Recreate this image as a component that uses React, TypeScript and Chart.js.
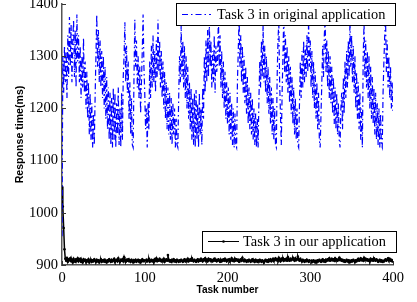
import React, { useEffect, useRef } from 'react';
import { Chart, registerables } from 'chart.js';

Chart.register(...registerables);

// Response time (ms) of Task 3, original application, task 0..400
const originalApp: number[] = [
  955, 1300, 1230, 1320, 1250, 1310, 1220, 1340, 1260, 1375,
  1280, 1360, 1250, 1330, 1370, 1260, 1350, 1240, 1380, 1290,
  1340, 1250, 1320, 1220, 1300, 1240, 1335, 1230, 1290, 1200,
  1270, 1180, 1250, 1150, 1230, 1140, 1210, 1125, 1190, 1130,
  1220, 1300, 1380, 1280, 1350, 1250, 1330, 1240, 1310, 1220,
  1300, 1200, 1280, 1180, 1260, 1160, 1240, 1140, 1230, 1130,
  1220, 1125, 1240, 1140, 1230, 1125, 1210, 1150, 1240, 1130,
  1200, 1125, 1230, 1140, 1260, 1300, 1365, 1250, 1320, 1230,
  1290, 1180, 1250, 1150, 1220, 1130, 1125, 1260, 1370, 1280,
  1330, 1240, 1300, 1220, 1280, 1190, 1250, 1310, 1380, 1280,
  1230, 1160, 1200, 1125, 1210, 1160, 1290, 1220, 1320, 1240,
  1340, 1250, 1310, 1230, 1330, 1260, 1370, 1270, 1330, 1240,
  1310, 1220, 1290, 1200, 1270, 1180, 1250, 1160, 1240, 1150,
  1230, 1140, 1220, 1130, 1210, 1150, 1200, 1125, 1180, 1130,
  1125, 1220, 1300, 1250, 1360, 1260, 1330, 1240, 1320, 1220,
  1300, 1200, 1280, 1180, 1250, 1160, 1240, 1140, 1220, 1130,
  1230, 1125, 1235, 1140, 1210, 1125, 1230, 1150, 1200, 1130,
  1240, 1180, 1300, 1230, 1330, 1250, 1350, 1260, 1370, 1280,
  1330, 1240, 1310, 1250, 1340, 1230, 1320, 1270, 1290, 1375,
  1280, 1340, 1240, 1310, 1220, 1290, 1200, 1270, 1180, 1250,
  1170, 1240, 1150, 1230, 1140, 1210, 1130, 1200, 1125, 1190,
  1130, 1125, 1250, 1310, 1375, 1280, 1340, 1250, 1320, 1230,
  1300, 1210, 1280, 1190, 1260, 1170, 1240, 1160, 1230, 1150,
  1220, 1140, 1200, 1130, 1190, 1125, 1180, 1125, 1220, 1290,
  1240, 1330, 1260, 1360, 1250, 1320, 1230, 1300, 1210, 1280,
  1190, 1260, 1170, 1240, 1150, 1220, 1140, 1200, 1130, 1125,
  1260, 1330, 1365, 1250, 1190, 1130, 1230, 1300, 1380, 1270,
  1340, 1250, 1320, 1230, 1300, 1210, 1280, 1190, 1260, 1170,
  1240, 1150, 1220, 1140, 1200, 1130, 1125, 1210, 1290, 1220,
  1310, 1240, 1330, 1250, 1320, 1260, 1340, 1270, 1370, 1280,
  1330, 1240, 1310, 1220, 1290, 1200, 1270, 1180, 1250, 1160,
  1230, 1140, 1125, 1190, 1250, 1320, 1260, 1340, 1370, 1270,
  1330, 1240, 1310, 1220, 1300, 1210, 1280, 1190, 1260, 1170,
  1240, 1160, 1230, 1150, 1210, 1140, 1125, 1200, 1230, 1160,
  1260, 1190, 1290, 1220, 1310, 1240, 1330, 1260, 1370, 1280,
  1340, 1250, 1320, 1230, 1300, 1200, 1270, 1180, 1250, 1160,
  1230, 1140, 1200, 1125, 1300, 1365, 1260, 1330, 1240, 1310,
  1220, 1300, 1200, 1280, 1180, 1260, 1170, 1240, 1150, 1230,
  1140, 1210, 1130, 1200, 1125, 1190, 1130, 1125, 1230, 1290,
  1340, 1370, 1270, 1330, 1240, 1300, 1220, 1280, 1200, 1250,
  1195,
];

// Response time (ms) of Task 3, our application, task 0..400
const ourApp: number[] = [
  1050, 1012, 971, 930, 912, 908, 914, 906, 911, 909,
  913, 907, 910, 905, 912, 908, 906, 911, 909, 913,
  907, 910, 912, 906, 909, 905, 911, 908, 910, 906,
  909, 907, 911, 905, 908, 910, 906, 909, 907, 911,
  908, 906, 910, 907, 909, 905, 908, 911, 906, 909,
  907, 910, 906, 908, 905, 909, 907, 911, 908, 906,
  910, 907, 909, 912, 906, 908, 910, 907, 913, 908,
  906, 910, 908, 911, 907, 915, 909, 906, 910, 908,
  911, 907, 909, 906, 910, 908, 905, 909, 907, 910,
  906, 908, 910, 907, 909, 905, 908, 911, 907, 909,
  908, 906, 910, 907, 909, 912, 906, 908, 910, 907,
  909, 906, 911, 908, 913, 907, 910, 908, 912, 909,
  907, 910, 908, 912, 906, 909, 911, 908, 919, 910,
  907, 909, 906, 910, 908, 911, 907, 909, 906, 910,
  908, 906, 909, 907, 910, 908, 906, 909, 911, 907,
  910, 908, 912, 907, 909, 911, 908, 913, 909, 907,
  910, 908, 906, 909, 911, 907, 910, 908, 912, 909,
  907, 911, 909, 913, 908, 910, 907, 912, 909, 911,
  908, 910, 907, 909, 912, 908, 910, 907, 909, 911,
  908, 906, 910, 907, 909, 911, 908, 912, 909, 907,
  910, 908, 911, 907, 909, 913, 908, 910, 907, 912,
  909, 911, 908, 910, 906, 909, 911, 908, 914, 909,
  907, 910, 908, 906, 909, 907, 910, 908, 906, 909,
  911, 907, 909, 906, 910, 908, 906, 909, 907, 910,
  908, 906, 909, 907, 905, 908, 910, 907, 909, 906,
  910, 908, 911, 907, 909, 912, 908, 910, 913, 909,
  911, 908, 914, 910, 907, 912, 909, 913, 908, 911,
  909, 912, 908, 915, 910, 908, 912, 909, 911, 914,
  910, 908, 913, 909, 911, 916, 910, 908, 912, 909,
  907, 910, 908, 906, 909, 907, 910, 908, 906, 909,
  907, 905, 908, 906, 909, 907, 905, 908, 906, 909,
  907, 910, 908, 906, 909, 911, 907, 909, 906, 910,
  908, 911, 909, 913, 908, 910, 912, 909, 911, 908,
  913, 909, 911, 908, 910, 914, 909, 911, 908, 910,
  907, 909, 906, 908, 910, 907, 909, 905, 908, 906,
  909, 907, 910, 908, 906, 909, 907, 910, 912, 908,
  910, 913, 909, 911, 908, 914, 910, 912, 909, 911,
  908, 910, 907, 912, 909, 911, 908, 913, 910, 908,
  911, 909, 906, 908, 910, 907, 909, 906, 908, 907,
  909, 911, 908, 910, 913, 909, 912, 908, 910, 907,
  909,
];

const xTicks: number[] = [0, 100, 200, 300, 400];
const yTicks: number[] = [900, 1000, 1100, 1200, 1300, 1400];
const legendLabels: string[] = ['Task 3 in original application', 'Task 3 in our application'];
const xTitle = 'Task number';
const yTitle = 'Response time(ms)';

const SERIF = '"Liberation Serif", "Times New Roman", serif';
const SANS = '"Liberation Sans", Arial, sans-serif';
const BLUE = '#0000ff';
const BLUE_DASH = [6, 3, 1.5, 3];

export default function App() {
  const ref = useRef<HTMLCanvasElement>(null);

  useEffect(() => {
    const canvas = ref.current;
    if (!canvas) return;

    const decor = {
      id: 'decor',
      afterDatasetsDraw(chart: any) {
        const { ctx, chartArea: ca, scales } = chart;
        const xs = scales.x;
        const ys = scales.y;
        ctx.save();
        // inward tick marks
        ctx.strokeStyle = '#333';
        ctx.lineWidth = 1;
        ctx.setLineDash([]);
        ctx.beginPath();
        yTicks.forEach((v) => {
          const y = Math.round(ys.getPixelForValue(v)) + 0.5;
          ctx.moveTo(ca.left, y);
          ctx.lineTo(ca.left + 4, y);
        });
        xTicks.forEach((v) => {
          const x = Math.round(xs.getPixelForValue(v)) + 0.5;
          ctx.moveTo(x, ca.bottom);
          ctx.lineTo(x, ca.bottom - 4);
        });
        ctx.stroke();

        const drawBox = (x0: number, y0: number, x1: number, y1: number) => {
          ctx.setLineDash([]);
          ctx.fillStyle = '#fff';
          ctx.fillRect(x0, y0, x1 - x0, y1 - y0);
          ctx.strokeStyle = '#000';
          ctx.lineWidth = 1;
          ctx.strokeRect(x0 + 0.5, y0 + 0.5, x1 - x0 - 1, y1 - y0 - 1);
        };

        ctx.font = `14.4px ${SERIF}`;
        ctx.textBaseline = 'middle';
        ctx.textAlign = 'left';

        // top legend (original application)
        drawBox(176, 3, 396, 26);
        ctx.strokeStyle = BLUE;
        ctx.lineWidth = 1.2;
        ctx.setLineDash(BLUE_DASH);
        ctx.beginPath();
        ctx.moveTo(182, 14.5);
        ctx.lineTo(211, 14.5);
        ctx.stroke();
        ctx.setLineDash([]);
        ctx.fillStyle = '#000';
        ctx.fillText(legendLabels[0], 217, 15);

        // bottom legend (our application)
        drawBox(202, 231, 397, 253);
        ctx.strokeStyle = '#000';
        ctx.lineWidth = 1;
        ctx.beginPath();
        ctx.moveTo(208, 241.5);
        ctx.lineTo(239, 241.5);
        ctx.stroke();
        ctx.beginPath();
        ctx.arc(223.5, 241.5, 1.3, 0, Math.PI * 2);
        ctx.fillStyle = '#000';
        ctx.fill();
        ctx.fillText(legendLabels[1], 243, 242);

        ctx.restore();
      },
    };

    const chart = new Chart(canvas, {
      type: 'line',
      data: {
        datasets: [
          {
            label: legendLabels[0],
            data: originalApp.map((v, i) => ({ x: i, y: v })),
            borderColor: BLUE,
            borderWidth: 1.2,
            borderDash: BLUE_DASH,
            pointRadius: 0,
            fill: false,
            tension: 0,
          },
          {
            label: legendLabels[1],
            data: ourApp.map((v, i) => ({ x: i, y: v })),
            borderColor: '#000',
            borderWidth: 1.5,
            pointRadius: 1.3,
            pointBackgroundColor: '#000',
            pointBorderWidth: 0,
            fill: false,
            tension: 0,
          },
        ],
      },
      plugins: [decor],
      options: {
        responsive: false,
        animation: false,
        devicePixelRatio: 1,
        layout: { padding: { top: 4, right: 24, left: 0, bottom: 0 } },
        plugins: {
          legend: { display: false },
          tooltip: { enabled: false },
        },
        scales: {
          x: {
            type: 'linear',
            min: 0,
            max: 400,
            grid: { display: false, drawTicks: false },
            border: { display: true, color: '#555', width: 1.5 },
            ticks: {
              stepSize: 100,
              padding: 4,
              color: '#000',
              font: { family: SERIF, size: 14.5 },
              maxRotation: 0,
              callback: (v: any) => String(v),
            },
            title: {
              display: true,
              text: xTitle,
              color: '#000',
              font: { family: SANS, size: 10.1, weight: 'bold' },
              padding: { top: 0, bottom: 6 },
            },
            afterFit(scale: any) {
              scale.height = 37;
              scale.paddingLeft = 0;
              scale.paddingRight = 0;
            },
          },
          y: {
            type: 'linear',
            min: 900,
            max: 1400,
            grid: { display: false, drawTicks: false },
            border: { display: true, color: '#555', width: 1.5 },
            ticks: {
              stepSize: 100,
              padding: 4,
              color: '#000',
              font: { family: SERIF, size: 14.5 },
              callback: (v: any) => String(v),
            },
            title: {
              display: true,
              text: yTitle,
              color: '#000',
              font: { family: SANS, size: 10.6, weight: 'bold' },
              padding: { top: 14, bottom: 0 },
            },
            afterFit(scale: any) {
              scale.width = 62;
              scale.paddingTop = 0;
              scale.paddingBottom = 0;
            },
          },
        },
      },
    } as any);

    return () => chart.destroy();
  }, []);

  return (
    <div style={{ position: 'absolute', left: 0, top: 0, width: 417, height: 302, background: '#fff' }}>
      <canvas ref={ref} width={417} height={302} style={{ display: 'block', width: 417, height: 302 }} />
    </div>
  );
}
